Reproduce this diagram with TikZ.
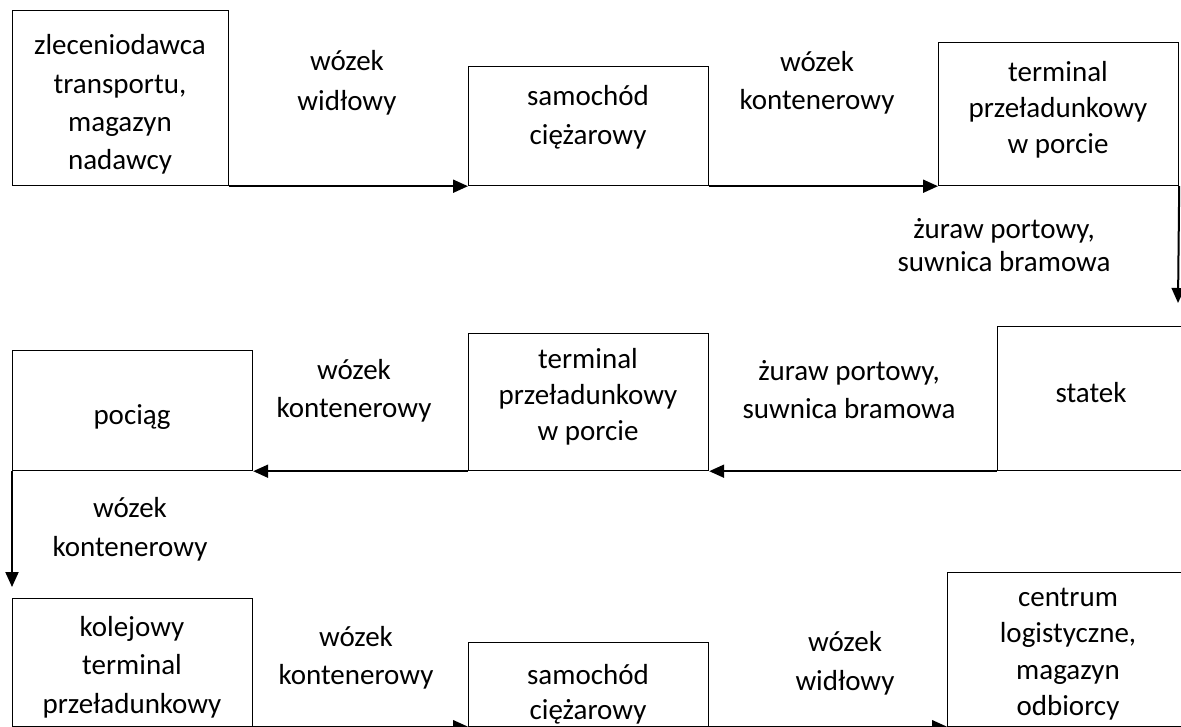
\documentclass[tikz,border=0pt]{standalone}
\usepackage{fontspec}
\setmainfont{Carlito}
\usetikzlibrary{arrows.meta}
\newcommand\ml[2]{\fontsize{29}{#1}\selectfont\begin{tabular}[t]{@{}c@{}}#2\end{tabular}}
\tikzset{
  box/.style={draw=black, line width=1.2pt, anchor=north west, inner sep=0pt, fill=none},
  txt/.style={anchor=base, inner sep=0pt},
  arr/.style={line width=2pt, -{Triangle[length=15pt,width=13pt]}},
}
\begin{document}
\begin{tikzpicture}[x=1pt,y=-1pt]
\useasboundingbox[fill=white] (0,0) rectangle (1181,727);
% boxes
\node[box, minimum width=216pt, minimum height=175pt] (A) at (12,10) {};
\node[box, minimum width=240pt, minimum height=119pt] (B) at (468,66) {};
\node[box, minimum width=240pt, minimum height=143pt] (C) at (938,42) {};
\node[box, minimum width=188pt, minimum height=144pt] (D) at (997,326) {};
\node[box, minimum width=240pt, minimum height=137pt] (T) at (468,333) {};
\node[box, minimum width=240pt, minimum height=120pt] (P) at (12,350) {};
\node[box, minimum width=240pt, minimum height=127.5pt] (E) at (12,598) {};
\node[box, minimum width=240pt, minimum height=83.5pt] (F) at (468,642) {};
\node[box, minimum width=242pt, minimum height=153.5pt] (G) at (947,572) {};
% box texts
\node[txt] (tA) at (120,55) {\ml{38.3pt}{zleceniodawca\\transportu,\\magazyn\\nadawcy}};
\node[txt] (tB) at (588,106) {\ml{39pt}{samochód\\ciężarowy}};
\node[txt] (tC) at (1058,82) {\ml{36pt}{terminal\\przeładunkowy\\w porcie}};
\node[txt] (tD) at (1091,402) {\ml{36pt}{statek}};
\node[txt] (tT) at (588,368) {\ml{36pt}{terminal\\przeładunkowy\\w porcie}};
\node[txt] (tP) at (132,424) {\ml{36pt}{pociąg}};
\node[txt] (tE) at (132,636) {\ml{38.5pt}{kolejowy\\terminal\\przeładunkowy}};
\node[txt] (tF) at (588,684) {\ml{35pt}{samochód\\ciężarowy}};
\node[txt] (tG) at (1068,606) {\ml{36.5pt}{centrum\\logistyczne,\\magazyn\\odbiorcy}};
% connector labels
\node[txt] (l1) at (347,71) {\ml{40pt}{wózek\\widłowy}};
\node[txt] (l2) at (817,72) {\ml{38pt}{wózek\\kontenerowy}};
\node[txt] (l3) at (1004,239) {\ml{33pt}{żuraw portowy,\\suwnica bramowa}};
\node[txt] (l4) at (849,381) {\ml{38pt}{żuraw portowy,\\suwnica bramowa}};
\node[txt] (l5) at (354,379) {\ml{38pt}{wózek\\kontenerowy}};
\node[txt] (l6) at (130,517) {\ml{39pt}{wózek\\kontenerowy}};
\node[txt] (l7) at (356,646) {\ml{38pt}{wózek\\kontenerowy}};
\node[txt] (l8) at (845,651) {\ml{39pt}{wózek\\widłowy}};
% free ends
\coordinate (cd) at (1178,303);
\coordinate (pe) at (12,587);
% connectors
\draw[arr] (A.south east) -- (B.south west);
\draw[arr] (B.south east) -- (C.south west);
\draw[arr] (C.south east) -- (cd);
\draw[arr] (D.south west) -- (T.south east);
\draw[arr] (T.south west) -- (P.south east);
\draw[arr] (P.south west) -- (pe);
\draw[arr] (E.south east) -- (F.south west);
\draw[arr] (F.south east) -- (G.south west);
\end{tikzpicture}
\end{document}
